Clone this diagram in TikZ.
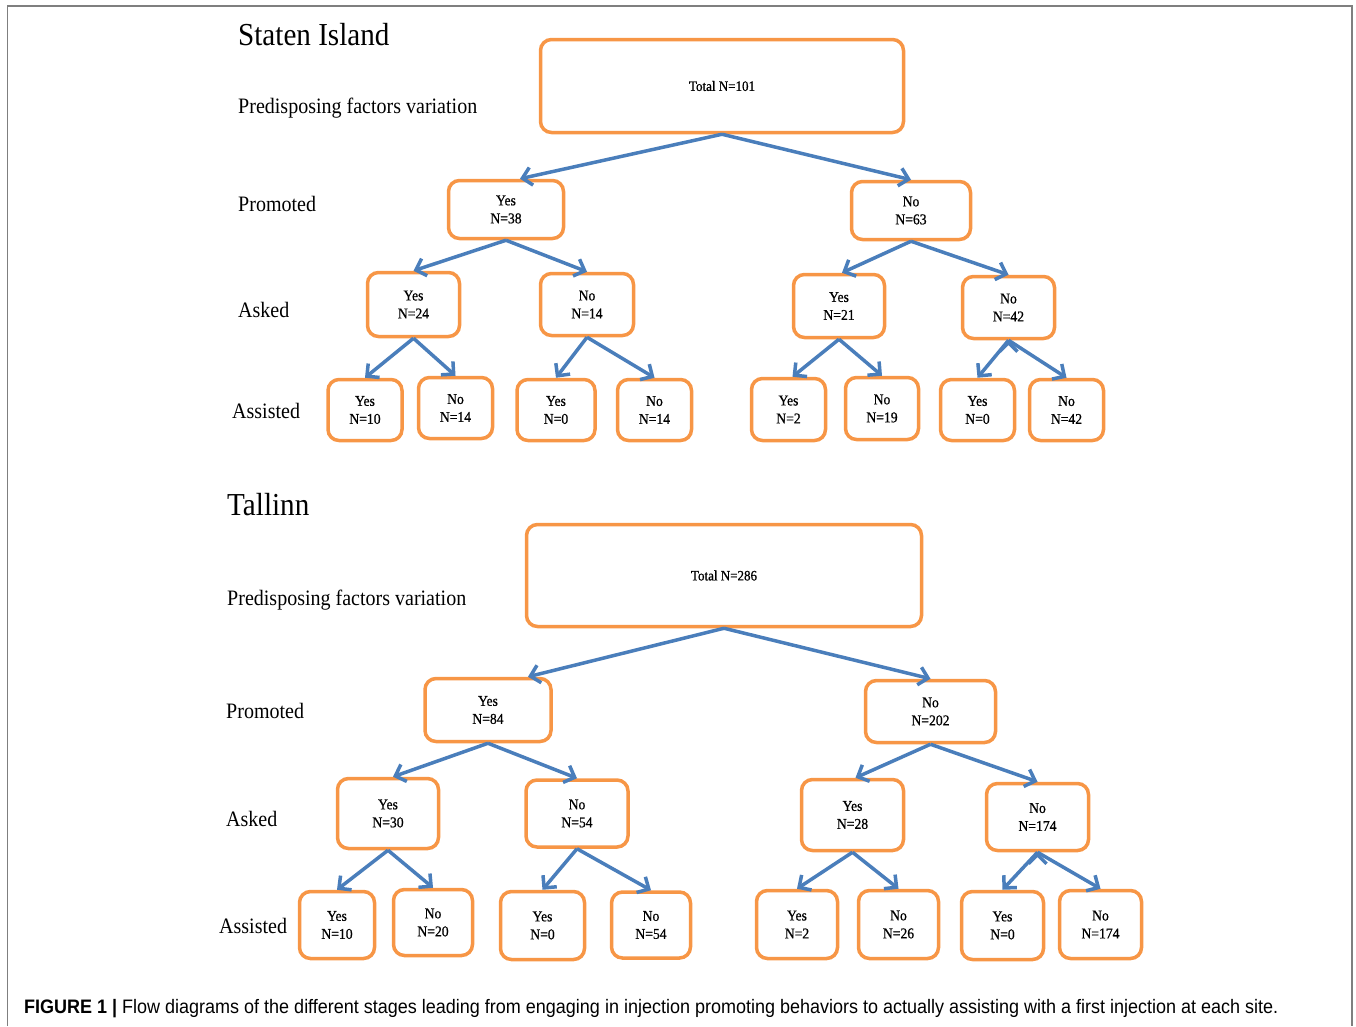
\documentclass[tikz,border=0pt]{standalone}
\usepackage{graphicx}
\usepackage{fontspec}
\setmainfont{Liberation Serif}[FakeStretch=0.91]
\setsansfont{Liberation Sans}
\newfontfamily\boxfont{Liberation Serif}[FakeStretch=0.91, FakeBold=0.7]
\usetikzlibrary{arrows.meta}
\definecolor{TreeOrange}{HTML}{F79646}
\definecolor{TreeBlue}{HTML}{4A7EBB}
\definecolor{FrameGray}{HTML}{7F7F7F}

\begin{document}
\begin{tikzpicture}[
    x=1pt, y=-1pt,
    site/.style={
        anchor=base west,
        inner sep=0pt,
        font=\fontsize{32}{36}\selectfont
    },
    stage/.style={
        anchor=base west,
        inner sep=0pt,
        font=\fontsize{22}{26}\selectfont
    },
    box/.style={
        draw=TreeOrange,
        line width=3.5pt,
        rounded corners=11pt,
        align=center,
        inner sep=0pt,
        fill=white,
        font=\boxfont\fontsize{15}{18}\selectfont
    },
    link/.style={
        -{Straight Barb[length=9pt,width=18pt]},
        line width=3.5pt,
        draw=TreeBlue
    }
]
    \useasboundingbox (0,0) rectangle (1356,1026);
    \draw[FrameGray, line width=1.5pt] (7.5,1026) -- (7.5,6) -- (1352,6) -- (1352,1026);

    % Staten Island
    \node[site] (siTitle) at (238,45) {Staten Island};
    \node[stage] (siPre) at (238,113) {Predisposing factors variation};
    \node[stage] (siProm) at (238,211) {Promoted};
    \node[stage] (siAsk) at (238,317) {Asked};
    \node[stage] (siAss) at (232,418) {Assisted};

    \node[box, minimum width=363pt, minimum height=93pt, font=\boxfont\fontsize{14.3}{18}\selectfont] (siTot) at (722,86) {Total N=101};
    \node[box, minimum width=115pt, minimum height=58pt] (siP1) at (506,209.5) {Yes\\N=38};
    \node[box, minimum width=119pt, minimum height=58pt] (siP2) at (911,210.5) {No\\N=63};
    \node[box, minimum width=92pt, minimum height=64pt] (siA1) at (413.5,304.5) {Yes\\N=24};
    \node[box, minimum width=93pt, minimum height=62pt] (siA2) at (587,304.5) {No\\N=14};
    \node[box, minimum width=91pt, minimum height=63pt] (siA3) at (839,306) {Yes\\N=21};
    \node[box, minimum width=92pt, minimum height=62pt] (siA4) at (1008.5,307.5) {No\\N=42};
    \node[box, minimum width=74pt, minimum height=61pt] (siS1) at (365,410) {Yes\\N=10};
    \node[box, minimum width=74pt, minimum height=61pt] (siS2) at (455.5,408) {No\\N=14};
    \node[box, minimum width=78pt, minimum height=61pt] (siS3) at (556,410) {Yes\\N=0};
    \node[box, minimum width=74pt, minimum height=61pt] (siS4) at (654.5,410) {No\\N=14};
    \node[box, minimum width=74pt, minimum height=62pt] (siS5) at (788.5,409.5) {Yes\\N=2};
    \node[box, minimum width=73pt, minimum height=62pt] (siS6) at (882,408.5) {No\\N=19};
    \node[box, minimum width=74pt, minimum height=61pt] (siS7) at (977.5,410) {Yes\\N=0};
    \node[box, minimum width=74pt, minimum height=61pt] (siS8) at (1066.5,410) {No\\N=42};

    \path[link]
        (siTot.south) edge ([xshift=14pt]siP1.north) edge (siP2.north)
        (siP1.south) edge (siA1.north) edge (siA2.north)
        (siP2.south) edge ([xshift=3pt]siA3.north) edge (siA4.north)
        (siA1.south) edge (siS1.north) edge (siS2.north)
        (siA2.south) edge (siS3.north) edge (siS4.north)
        (siA3.south) edge ([xshift=4pt]siS5.north) edge (siS6.north)
        (siA4.south) edge (siS7.north) edge (siS8.north);

    % Tallinn
    \node[site] (taTitle) at (227,515) {Tallinn};
    \node[stage] (taPre) at (227,605) {Predisposing factors variation};
    \node[stage] (taProm) at (226,718) {Promoted};
    \node[stage] (taAsk) at (226,826) {Asked};
    \node[stage] (taAss) at (219,933) {Assisted};

    \node[box, minimum width=395pt, minimum height=102pt, font=\boxfont\fontsize{14.3}{18}\selectfont] (taTot) at (724,575.5) {Total N=286};
    \node[box, minimum width=126pt, minimum height=63pt] (taP1) at (488,710) {Yes\\N=84};
    \node[box, minimum width=130pt, minimum height=62pt] (taP2) at (930.5,711.5) {No\\N=202};
    \node[box, minimum width=101pt, minimum height=70pt] (taA1) at (388,813.5) {Yes\\N=30};
    \node[box, minimum width=102pt, minimum height=67pt] (taA2) at (577,813.5) {No\\N=54};
    \node[box, minimum width=102pt, minimum height=71pt] (taA3) at (852.5,815) {Yes\\N=28};
    \node[box, minimum width=102pt, minimum height=67pt] (taA4) at (1037.5,817) {No\\N=174};
    \node[box, minimum width=75pt, minimum height=67pt] (taS1) at (337,925) {Yes\\N=10};
    \node[box, minimum width=79pt, minimum height=66pt] (taS2) at (433,922.5) {No\\N=20};
    \node[box, minimum width=84pt, minimum height=68pt] (taS3) at (542.5,925.5) {Yes\\N=0};
    \node[box, minimum width=79pt, minimum height=66pt] (taS4) at (651,925) {No\\N=54};
    \node[box, minimum width=81pt, minimum height=68pt] (taS5) at (797,924.5) {Yes\\N=2};
    \node[box, minimum width=80pt, minimum height=68pt] (taS6) at (898.5,924.5) {No\\N=26};
    \node[box, minimum width=82pt, minimum height=68pt] (taS7) at (1002.5,925.5) {Yes\\N=0};
    \node[box, minimum width=82pt, minimum height=68pt] (taS8) at (1100.5,924.5) {No\\N=174};

    \path[link]
        (taTot.south) edge ([xshift=40pt]taP1.north) edge (taP2.north)
        (taP1.south) edge ([xshift=5pt]taA1.north) edge (taA2.north)
        (taP2.south) edge ([xshift=3pt]taA3.north) edge (taA4.north)
        (taA1.south) edge (taS1.north) edge (taS2.north)
        (taA2.south) edge (taS3.north) edge (taS4.north)
        (taA3.south) edge (taS5.north) edge (taS6.north)
        (taA4.south) edge (taS7.north) edge (taS8.north);

    \node[anchor=base west, inner sep=0pt, font=\sffamily\mdseries\fontsize{19.5}{22}\selectfont] (caption) at (24,1013)
        {\resizebox{1254pt}{\height}{\textbf{FIGURE 1 |} Flow diagrams of the different stages leading from engaging in injection promoting behaviors to actually assisting with a first injection at each site.}};
\end{tikzpicture}
\end{document}
